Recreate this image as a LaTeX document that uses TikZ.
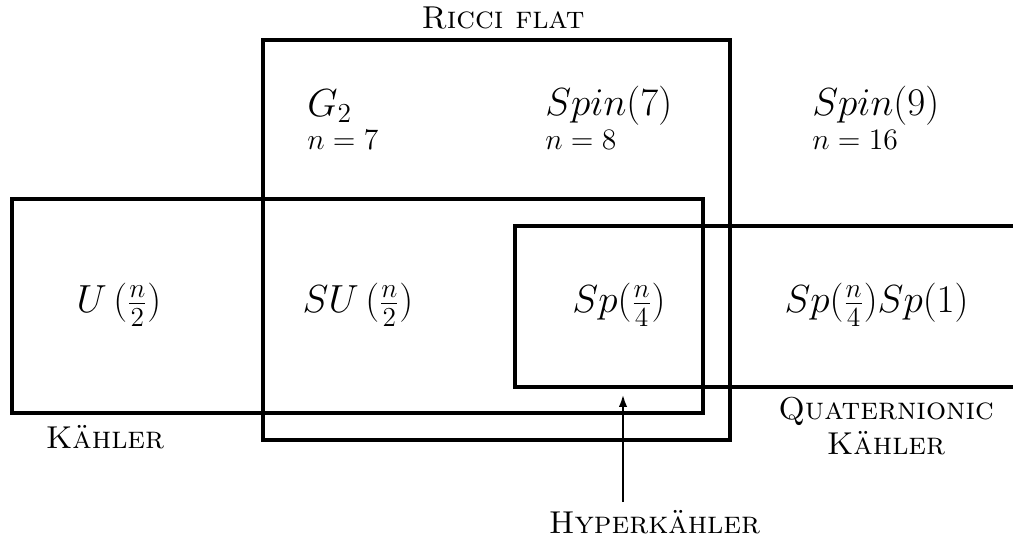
\RequirePackage{fix-cm}
\documentclass[tikz,border=0pt]{standalone}
\usetikzlibrary{arrows.meta,positioning}
\tikzset{
  region/.style={line width=2pt},
  grp/.style={inner sep=0pt,font=\fontsize{22.3}{26}\selectfont},
  dimlbl/.style={inner sep=0pt,font=\fontsize{16.9}{20}\selectfont},
  cls/.style={inner sep=1pt,font=\fontsize{18}{22}\selectfont\scshape,align=center}
}
\begin{document}
\begin{tikzpicture}[>={Latex[length=2.6mm,width=1.7mm]}]
		\useasboundingbox (0,0) rectangle (20.26,10.74);
		
		% the three classes
		\draw[region] (5.26,1.94) rectangle (14.60,9.94);
		\draw[region] (0.24,2.48) rectangle (14.06,6.76);
		\draw[region] (20.60,3.00) -- (10.30,3.00) -- (10.30,6.22) -- (20.60,6.22);
		
		\node[cls] (ricci) at (10.06,10.38) {Ricci flat};
		\node[cls] (kahler) at (2.10,2.00) {Kähler};
		\node[cls] (quat) at (17.72,2.22) {Quaternionic\\[-2pt]Kähler};
		\node[cls] (hyper) at (13.09,0.30) {Hyperkähler};
		
		% exceptional holonomy
		\node[grp,anchor=west] (g2) at (6.14,8.62) {$G_2$};
		\node[dimlbl,anchor=west] (g2n) at (6.14,7.94) {$n=7$};
		\node[grp,anchor=west] (spin7) at (10.90,8.62) {$Spin(7)$};
		\node[dimlbl,anchor=west] (spin7n) at (10.90,7.94) {$n=8$};
		\node[grp,anchor=west] (spin9) at (16.24,8.62) {$Spin(9)$};
		\node[dimlbl,anchor=west] (spin9n) at (16.24,7.94) {$n=16$};
		
		% Kähler type
		\node[grp] (un) at (2.38,4.64) {$U\,(\frac{n}{2})$};
		\node[grp] (sun) at (7.16,4.64) {$SU\,(\frac{n}{2})$};
		\node[grp] (spn) at (12.38,4.64) {$Sp(\frac{n}{4})$};
		\node[grp] (spnsp) at (17.53,4.64) {$Sp(\frac{n}{4})Sp(1)$};
		
		\coordinate (hk) at (12.46,2.86);
		\draw[->,line width=1.6pt] (hyper.north -| hk) ++(0,0.12) -- (hk);
	\end{tikzpicture}
\end{document}
